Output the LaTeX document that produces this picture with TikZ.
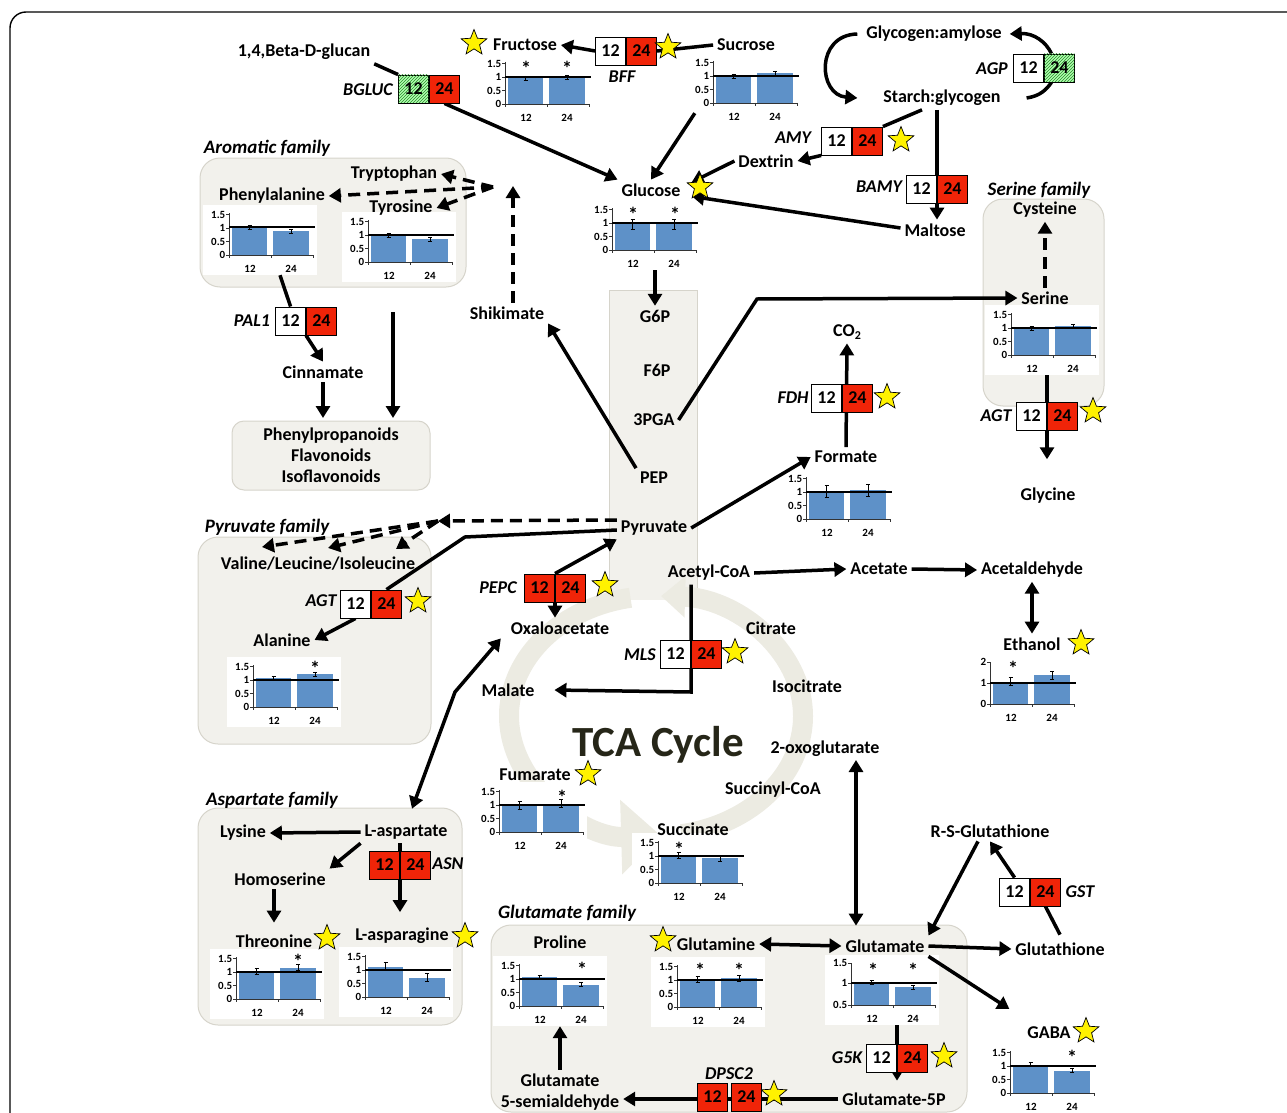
\documentclass[tikz,border=0pt]{standalone}
\usepackage{fontspec}
\setmainfont{Carlito}
\usetikzlibrary{arrows.meta,shapes.geometric,patterns,positioning,calc}

\definecolor{expred}{RGB}{240,36,8}
\definecolor{barblue}{RGB}{94,145,200}
\definecolor{famgray}{RGB}{242,241,236}
\definecolor{famline}{RGB}{214,212,203}
\definecolor{tcagray}{RGB}{236,235,226}
\definecolor{tcatext}{RGB}{38,38,24}
\definecolor{hatchgreen}{RGB}{40,140,40}

\pgfdeclarelayer{back}
\pgfdeclarelayer{chartback}
\pgfdeclarelayer{conn}
\pgfsetlayers{back,chartback,conn,main}

\def\tks{0/0,13.5/0.5,27/1,40.5/1.5}
% pair of expression boxes: name, x, y, style of 12, style of 24
\newcommand\expr[5]{%
  \node[#4,anchor=east] (#1-12) at (#2,#3) {12};
  \node[#5,anchor=west] (#1-24) at (#2,#3) {24};}
% small bar chart: name, axis origin x, y, height of 1, bar 12, bar 24, error
\newcommand\bchart[7]{%
  \begin{pgfonlayer}{chartback}
  \node[chartbg] (#1) at (#2+31,#3-15) {};
  \end{pgfonlayer}
  \fill[barblue] (#2+3,#3) rectangle (#2+38,#3-#5);
  \fill[barblue] (#2+44,#3) rectangle (#2+80,#3-#6);
  \draw[ax] (#2,#3-42) -- (#2,#3) -- (#2+84,#3);
  \foreach \t in {0,42,84}{\draw[ax] (#2+\t,#3) -- (#2+\t,#3+3);}
  \foreach \p/\lab [count=\k] in \tks{%
    \draw[ax] (#2-3,#3-\p) -- (#2,#3-\p);
    \node[tk,anchor=east] (#1-y\k) at (#2-3,#3-\p) {\lab};}
  \draw[refl] (#2,#3-#4) -- (#2+86,#3-#4);
  \draw[ebar] (#2+20.5,#3-#5-#7) -- (#2+20.5,#3-#5+#7)
    (#2+18.5,#3-#5-#7) -- (#2+22.5,#3-#5-#7) (#2+18.5,#3-#5+#7) -- (#2+22.5,#3-#5+#7);
  \draw[ebar] (#2+62,#3-#6-#7) -- (#2+62,#3-#6+#7)
    (#2+60,#3-#6-#7) -- (#2+64,#3-#6-#7) (#2+60,#3-#6+#7) -- (#2+64,#3-#6+#7);
  \node[tk] (#1-x1) at (#2+21,#3+14) {12};
  \node[tk] (#1-x2) at (#2+62,#3+14) {24};}

\begin{document}
\begin{tikzpicture}[x=1pt,y=-1pt,
  >={Triangle[length=12pt,width=14pt]},
  met/.style={font=\fontsize{18}{21}\selectfont\bfseries, inner sep=1pt, outer sep=3pt},
  gene/.style={font=\fontsize{18}{21}\selectfont\bfseries\itshape, inner sep=1pt},
  fam/.style={font=\fontsize{19}{21}\selectfont\bfseries\itshape, inner sep=1pt},
  cell/.style={draw, line width=0.9pt, minimum width=30pt, minimum height=28pt, inner sep=0pt, font=\fontsize{18}{21}\selectfont\bfseries},
  lo/.style={cell, fill=white},
  hi/.style={cell, fill=expred},
  dn/.style={cell, fill=green!30, postaction={pattern=north east lines, pattern color=hatchgreen}},
  famBox/.style={draw=famline, fill=famgray, line width=1pt, rounded corners=20pt, inner sep=0pt},
  chartbg/.style={fill=white, minimum width=114pt, minimum height=70pt, inner sep=0pt},
  ax/.style={line width=0.8pt, draw=black!80},
  refl/.style={line width=1.2pt},
  ebar/.style={line width=0.7pt},
  tk/.style={font=\fontsize{11}{12}\selectfont\bfseries, inner sep=0.5pt},
  sig/.style={font=\fontsize{20}{20}\selectfont\bfseries, inner sep=0pt},
  hit/.style={star, star points=5, star point ratio=2.3, fill=yellow, draw, line width=0.7pt, minimum size=27pt, inner sep=0pt},
  lnk/.style={line width=3.5pt},
  arr/.style={line width=3.5pt, ->},
  darr/.style={line width=3.5pt, <->},
  dsh/.style={arr, dash pattern=on 12pt off 7pt}]
\useasboundingbox (0,0) rectangle (1287,1113);
\draw[line width=1.4pt, rounded corners=16pt] (10,1130) -- (10,12) -- (1300,12);

% family boxes, glycolysis column and TCA ring
\begin{pgfonlayer}{back}
\node[famBox, minimum width=266pt, minimum height=129pt] (aroBox) at (333,222.5) {};
\node[famBox, minimum width=121pt, minimum height=207pt] (serBox) at (1043.5,302.5) {};
\node[famBox, minimum width=233pt, minimum height=207pt] (pyrBox) at (314.5,640.5) {};
\node[famBox, minimum width=264pt, minimum height=217pt] (aspBox) at (330,916.5) {};
\node[famBox, minimum width=476pt, minimum height=187pt] (gluBox) at (729,1018.5) {};
\node[fill=famgray, minimum width=87pt, minimum height=309pt, inner sep=0pt] (glyc) at (653.5,445.5) {};
\draw[famline, line width=1pt] (glyc.south west) -- (glyc.north west) -- (glyc.north east) -- (glyc.south east);
\draw[line width=20pt, draw=tcagray, -{Triangle[length=24pt,width=40pt]}] (681.5,834.2) arc[start angle=-80, end angle=88, x radius=147pt, y radius=120pt];
\draw[line width=20pt, draw=tcagray, -{Triangle[length=40pt,width=72pt]}] (630.5,597.8) arc[start angle=100, end angle=272, x radius=147pt, y radius=120pt];
\end{pgfonlayer}
\node[font=\fontsize{43}{43}\selectfont\bfseries, text=tcatext] (tca) at (658,745) {TCA Cycle};

\node[fam] (aroLab) at (267,148) {Aromatic family};
\node[fam] (serLab) at (1039,190) {Serine family};
\node[fam] (pyrLab) at (267,527) {Pyruvate family};
\node[fam] (aspLab) at (272,800) {Aspartate family};
\node[fam] (gluLab) at (567,913) {Glutamate family};

% charts
\bchart{frcC}{505}{104}{27}{26}{26.5}{2}
\bchart{sucC}{713}{103}{27}{27}{30}{2}
\bchart{glcC}{612}{250}{27}{26}{26}{5}
\bchart{pheC}{229}{255}{28}{28}{24}{2}
\bchart{tyrC}{368}{262}{27}{27}{23}{2}
\bchart{fmtC}{806}{519}{27}{28}{29}{6}
\bchart{serC}{1011}{355}{27}{27}{29}{2}
\bchart{alaC}{253}{707}{27}{29}{33}{2}
{\def\tks{0/0,21/1,42/2}\bchart{ethC}{990}{704}{21}{22.5}{29}{4}}
\bchart{fumC}{499}{832}{27}{27}{28.5}{4}
\bchart{scaC}{658}{883}{27}{27.5}{25}{3}
\bchart{thrC}{236}{999}{27}{28}{31.5}{3}
\bchart{lasnC}{365}{997}{27}{30.5}{19.5}{4}
\bchart{proC}{519}{1006}{27}{29}{21.5}{2}
\bchart{glnC}{677}{1007}{27}{28}{29}{3}
{\def\tks{0/0.5,22/1,42/1.5}\bchart{gluC}{851}{1005}{22}{23}{18}{2}}
\bchart{gabaC}{1010}{1093}{27}{28.5}{22.5}{2}

\node[sig] (frcC-s1) at (526,68) {*};
\node[sig] (frcC-s2) at (567,68) {*};
\node[sig] (glcC-s1) at (633,214) {*};
\node[sig] (glcC-s2) at (675,214) {*};
\node[sig] (alaC-s2) at (315,668) {*};
\node[sig] (ethC-s1) at (1013,668) {*};
\node[sig] (fumC-s2) at (562,797) {*};
\node[sig] (scaC-s1) at (679,849) {*};
\node[sig] (thrC-s2) at (298,961) {*};
\node[sig] (proC-s2) at (582,969) {*};
\node[sig] (glnC-s1) at (700,970) {*};
\node[sig] (glnC-s2) at (739,970) {*};
\node[sig] (gluC-s1) at (873,970) {*};
\node[sig] (gluC-s2) at (913,970) {*};
\node[sig] (gabaC-s2) at (1072,1057) {*};

% metabolites
\node[met] (bglucan) at (304,52) {1,4,Beta-D-glucan};
\node[met] (frc) at (525,45) {Fructose};
\node[met] (suc) at (746,45) {Sucrose};
\node[met] (gly) at (934,34) {Glycogen:amylose};
\node[met] (stc) at (942,98) {Starch:glycogen};
\node[met] (dex) at (766,161) {Dextrin};
\node[met] (glc) at (651,190) {Glucose};
\node[met] (mal) at (935,230) {Maltose};
\node[met] (tryp) at (394,174) {Tryptophan};
\node[met] (phe) at (272,196) {Phenylalanine};
\node[met] (tyr) at (401,208) {Tyrosine};
\node[met] (shk) at (507,313) {Shikimate};
\node[met] (cin) at (323,372) {Cinnamate};
\node[famBox, rounded corners=12pt, outer sep=3pt, minimum width=198pt, minimum height=69pt, align=center, font=\fontsize{18}{21}\selectfont\bfseries] (pp) at (331,455.5) {Phenylpropanoids\\Flavonoids\\Isoflavonoids};
\node[met] (g6p) at (655,316) {G6P};
\node[met] (f6p) at (657,370) {F6P};
\node[met] (pga) at (654,420) {3PGA};
\node[met] (pep) at (654,478) {PEP};
\node[met] (pyr) at (654,528) {Pyruvate};
\node[met] (co2) at (847,332) {CO\raisebox{-3pt}{\fontsize{12}{12}\selectfont 2}};
\node[met] (fmt) at (846,457) {Formate};
\node[met] (cys) at (1045,210) {Cysteine};
\node[met] (ser) at (1045,298) {Serine};
\node[met] (gcn) at (1048,496) {Glycine};
\node[met] (vli) at (318,564) {Valine/Leucine/Isoleucine};
\node[met] (ala) at (282,640) {Alanine};
\node[met] (oxa) at (560,628) {Oxaloacetate};
\node[met] (acc) at (709,573) {Acetyl-CoA};
\node[met] (act) at (879,569) {Acetate};
\node[met] (ald) at (1032,570) {Acetaldehyde};
\node[met] (eth) at (1032,644) {Ethanol};
\node[met] (cit) at (771,628) {Citrate};
\node[met] (mlt) at (508,690) {Malate};
\node[met] (icit) at (807,686) {Isocitrate};
\node[met] (oxg) at (825,749) {2-oxoglutarate};
\node[met] (scoa) at (773,790) {Succinyl-CoA};
\node[met] (sca) at (693,829) {Succinate};
\node[met] (fum) at (535,775) {Fumarate};
\node[met] (asp) at (406,832) {L-aspartate};
\node[met] (lys) at (243,833) {Lysine};
\node[met] (hom) at (280,879) {Homoserine};
\node[met] (thr) at (274,941) {Threonine};
\node[met] (lasn) at (402,936) {L-asparagine};
\node[met] (rsg) at (990,831) {R-S-Glutathione};
\node[met] (gsh) at (1060,949) {Glutathione};
\node[met] (pro) at (560,942) {Proline};
\node[met] (gln) at (716,944) {Glutamine};
\node[met] (glu) at (885,946) {Glutamate};
\node[met] (gaba) at (1049,1033) {GABA};
\node[met] (g5p) at (894,1099) {Glutamate-5P};
\node[met, align=center] (g5s) at (560,1092) {Glutamate\\5-semialdehyde};

% genes
\expr{bgluc}{429}{89}{dn}{hi}
\expr{bff}{626}{51}{lo}{hi}
\expr{agp}{1044}{68}{lo}{dn}
\expr{amy}{852}{141}{lo}{hi}
\expr{bamy}{937}{189}{lo}{hi}
\expr{pal}{306}{321}{lo}{hi}
\expr{fdh}{842}{398}{lo}{hi}
\expr{agts}{1047}{416}{lo}{hi}
\expr{agtp}{371}{604}{lo}{hi}
\expr{pepc}{555}{588}{hi}{hi}
\expr{mls}{691}{654}{lo}{hi}
\expr{asn}{400}{865}{hi}{hi}
\expr{gst}{1030}{892}{lo}{hi}
\expr{g5k}{897}{1058}{lo}{hi}
\node[hi,anchor=east] (dpsc-12) at (728,1097) {12};
\node[hi,anchor=west] (dpsc-24) at (731,1097) {24};
\node[gene] (bglucL) at (368,90) {BGLUC};
\node[gene] (bffL) at (622,77) {BFF};
\node[gene] (agpL) at (992,69) {AGP};
\node[gene] (amyL) at (793,138) {AMY};
\node[gene] (bamyL) at (879,187) {BAMY};
\node[gene] (palL) at (252,321) {PAL1};
\node[gene] (fdhL) at (793,398) {FDH};
\node[gene] (agtsL) at (996,416) {AGT};
\node[gene] (agtpL) at (321,601) {AGT};
\node[gene] (pepcL) at (498,588) {PEPC};
\node[gene] (mlsL) at (640,655) {MLS};
\node[gene] (asnL) at (448,864) {ASN};
\node[gene] (gstL) at (1080,892) {GST};
\node[gene] (g5kL) at (847,1058) {G5K};
\node[gene] (dpscL) at (729,1074) {DPSC2};

% stars
\node[hit] (frcS) at (474,43) {};
\node[hit] (bffS) at (668,47) {};
\node[hit] (amyS) at (901,140) {};
\node[hit] (glcS) at (700,187) {};
\node[hit] (fdhS) at (887,397) {};
\node[hit] (agtsS) at (1093,411) {};
\node[hit] (agtpS) at (418,601) {};
\node[hit] (pepcS) at (605,585) {};
\node[hit] (mlsS) at (735,652) {};
\node[hit] (ethS) at (1081,643) {};
\node[hit] (fumS) at (588,774) {};
\node[hit] (thrS) at (327,938) {};
\node[hit] (lasnS) at (465,936) {};
\node[hit] (glnS) at (663,940) {};
\node[hit] (gabaS) at (1086,1031) {};
\node[hit] (g5kS) at (944,1056) {};
\node[hit] (dpscS) at (774,1094) {};

\coordinate (shkTop) at (513,186);
\coordinate (shkJ) at (493,187);
\coordinate (aroOut) at (393,312);
\coordinate (pgaBend) at (757,299);
\coordinate (pyrJ) at (438,521);
\coordinate (vl1) at (262,547);
\coordinate (vl2) at (328,548);
\coordinate (vl3) at (396,549);
\coordinate (pyrBend) at (465,537);
\coordinate (mlsBend) at (691,692);
\coordinate (aspBend) at (455,692);
\coordinate (ogx) at (856,760);

% connectors
\begin{pgfonlayer}{conn}
\draw[lnk] (bglucan.south east) -- (bgluc-12.north west);
\draw[arr] (bgluc-24.south) -- (glc.north west);
\draw[arr] (bff-12.west) -- (frc.east);
\draw[lnk] (suc.west) -- (bff-24.east);
\draw[arr] ([xshift=8pt,yshift=10pt]sucC.south west) -- (glc.north);
\draw[arr] ([xshift=-5pt]gly.west) .. controls (815,35) and (818,95) .. ([xshift=-22pt]stc.west);
\draw[arr] ([xshift=-8pt]agp-24.north) .. controls (1046,42) and (1034,33) .. ([xshift=4pt]gly.east);
\draw[lnk] ([xshift=22pt]stc.east) .. controls (1040,96) and (1046,90) .. ([xshift=-8pt]agp-24.south);
\draw[lnk] ([xshift=-20pt]stc.south) -- (amy-24.north east);
\draw[arr] (amy-12.south west) -- (dex.east);
\draw[arr] (dex.west) -- (glcS.150);
\draw[arr] (stc.south -| bamy-12.east) -- (bamy-12.east |- mal.north);
\draw[arr] ([yshift=2pt]mal.west) -- (glcS.230);
\draw[arr] (g6p.north |- glcC.south) -- (g6p.north);
\draw[arr] (pep.north west) -- (shk.south east);
\draw[dsh] ([xshift=6pt]shk.north) -- (shkTop);
\draw[dsh] (shkJ) -- (tryp.east);
\draw[dsh] (shkJ) -- (tyr.east);
\draw[dsh] (shkJ) -- (phe.east);
\draw[lnk] ([xshift=20pt]pheC.south) -- (pal-12.north);
\draw[arr] (pal-24.south west) -- (cin.north);
\draw[arr] (cin.south) -- (cin.south |- pp.north);
\draw[arr] (aroOut) -- (aroOut |- pp.north);
\draw[arr] (pga.east) -- (pgaBend) -- (ser.west);
\draw[arr] (pyr.east) -- (fmt.west);
\draw[arr] (fmt.north) -- (co2.south);
\draw[dsh] (ser.north) -- (cys.south);
\draw[arr, shorten >=25pt] (serC.south -| agts-12.east) -- (agts-12.east |- gcn.north);
\draw[dsh] ([yshift=8pt]pyr.west) -- (pyrJ);
\foreach \v in {vl1,vl2,vl3}{\draw[dsh] (pyrJ) -- (\v);}
\draw[lnk] ([yshift=-2pt]pyr.west) -- (pyrBend) -- (agtp-24.north);
\draw[arr] (agtp-12.south) -- (ala.east);
\draw[arr] (pepc-12.north east) -- (pyr.south west);
\draw[arr] (pepc-12.south east) -- (pepc-12.south east |- oxa.north);
\draw[arr] (acc.east) -- (act.west);
\draw[arr] (act.east) -- (ald.west);
\draw[darr] (ald.south) -- (eth.north);
\draw[arr] (acc.south -| mls-12.east) -- (mlsBend) -- ([xshift=16pt]mlt.east);
\draw[darr] ([xshift=-6pt]oxa.south west) -- (aspBend) -- ([shift={(6pt,12pt)}]asp.north);
\draw[darr, shorten >=10pt] (ogx) -- (ogx |- glu.north);
\draw[arr] (asp.west) -- (lys.east);
\draw[arr] (asp.south west) -- (hom.north east);
\draw[arr, shorten >=8pt] (hom.south -| thr.north) -- (thr.north);
\draw[arr, shorten >=12pt] (asp.south -| asn-12.east) -- (asn-12.east |- lasn.north);
\draw[darr] (gln.east) -- (glu.west);
\draw[arr] (glu.east) -- (gsh.west);
\draw[arr] (glu.south east) -- ([shift={(-14pt,14pt)}]gaba.north west);
\draw[arr] ([xshift=-12pt]rsg.south) -- (glu.north east);
\draw[lnk] ([yshift=4pt]gsh.north) -- (gst-24.south);
\draw[arr] (gst-12.north) -- (rsg.south);
\draw[arr, shorten >=8pt] (gluC.south -| g5k-12.east) -- (g5k-12.east |- g5p.north);
\draw[arr] (g5p.west) -- (g5s.east |- g5p.west);
\draw[arr] (g5s.north) -- (g5s.north |- proC.south);
\end{pgfonlayer}
\end{tikzpicture}
\end{document}
